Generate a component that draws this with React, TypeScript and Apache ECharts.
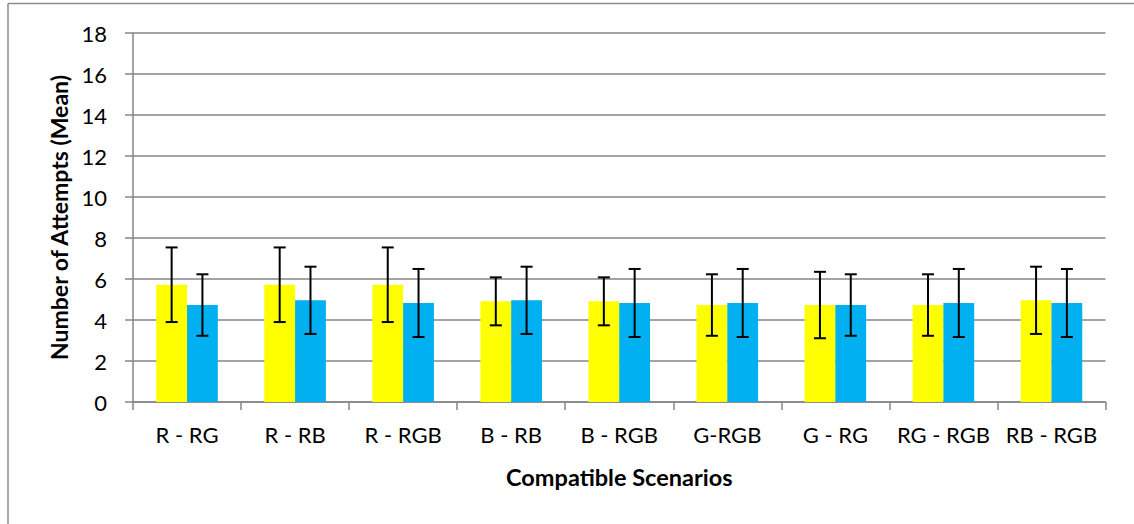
import React, { useEffect, useRef } from "react";
import * as echarts from "echarts";

// Compatible scenarios on the x axis
const categories = [
  "R - RG",
  "R - RB",
  "R - RGB",
  "B - RB",
  "B - RGB",
  "G-RGB",
  "G - RG",
  "RG - RGB",
  "RB - RGB",
];

// Mean number of attempts and the error (± half-range) for each pair
const firstMeans = [5.72, 5.72, 5.72, 4.91, 4.91, 4.73, 4.73, 4.73, 4.96];
const firstErrors = [1.82, 1.82, 1.82, 1.17, 1.17, 1.5, 1.62, 1.5, 1.64];
const secondMeans = [4.73, 4.96, 4.83, 4.96, 4.83, 4.83, 4.73, 4.83, 4.83];
const secondErrors = [1.5, 1.64, 1.66, 1.64, 1.66, 1.66, 1.5, 1.66, 1.66];

const yTicks = { min: 0, max: 18, interval: 2 };

const FONT = "Lato, 'Open Sans', sans-serif";
const GRID_COLOR = "#868686";
const CATEGORY_GAP = 0.43;

function errorSeries(means: number[], errors: number[], side: number) {
  return {
    type: "custom",
    silent: true,
    z: 10,
    data: means.map((m, i) => [i, m - errors[i], m + errors[i]]),
    renderItem: (params: any, api: any) => {
      const idx = api.value(0);
      const lo = api.coord([idx, api.value(1)]);
      const hi = api.coord([idx, api.value(2)]);
      const band = api.size([1, 0])[0];
      const barW = (band * (1 - CATEGORY_GAP)) / 2;
      const x = lo[0] + side * (barW / 2);
      const cap = 6;
      const style = { stroke: "#000", lineWidth: 2 };
      return {
        type: "group",
        children: [
          { type: "line", shape: { x1: x, y1: lo[1], x2: x, y2: hi[1] }, style },
          { type: "line", shape: { x1: x - cap, y1: hi[1], x2: x + cap, y2: hi[1] }, style },
          { type: "line", shape: { x1: x - cap, y1: lo[1], x2: x + cap, y2: lo[1] }, style },
        ],
      };
    },
  };
}

export default function App() {
  const ref = useRef<HTMLDivElement>(null);

  useEffect(() => {
    if (!ref.current) return;
    const chart = echarts.init(ref.current, null, { renderer: "svg" });
    chart.setOption({
      animation: false,
      backgroundColor: "#ffffff",
      grid: { left: 133, right: 28.5, top: 33, bottom: 122, containLabel: false },
      graphic: [
        {
          type: "line",
          shape: { x1: 8, y1: 3.5, x2: 1134, y2: 3.5 },
          style: { stroke: "#8c8c8c", lineWidth: 1.5 },
        },
        {
          type: "line",
          shape: { x1: 8, y1: 3.5, x2: 8, y2: 524 },
          style: { stroke: "#8c8c8c", lineWidth: 1.5 },
        },
      ],
      xAxis: {
        type: "category",
        data: categories,
        name: "Compatible Scenarios",
        nameLocation: "middle",
        nameGap: 63,
        nameTextStyle: { fontFamily: FONT, fontSize: 23.5, fontWeight: "bold", color: "#000" },
        axisLine: { lineStyle: { color: GRID_COLOR, width: 1.5 } },
        axisTick: { show: true, length: 8, lineStyle: { color: GRID_COLOR, width: 1.5 } },
        axisLabel: { fontFamily: FONT, fontSize: 22, color: "#000", margin: 21, interval: 0 },
      },
      yAxis: {
        type: "value",
        min: yTicks.min,
        max: yTicks.max,
        interval: yTicks.interval,
        name: "Number of Attempts (Mean)",
        nameLocation: "middle",
        nameGap: 61,
        nameTextStyle: { fontFamily: FONT, fontSize: 23, fontWeight: "bold", color: "#000" },
        axisLine: { show: true, lineStyle: { color: GRID_COLOR, width: 1.5 } },
        axisTick: { show: true, length: 8, lineStyle: { color: GRID_COLOR, width: 1.5 } },
        axisLabel: { fontFamily: FONT, fontSize: 22, color: "#000", margin: 26 },
        splitLine: { show: true, lineStyle: { color: GRID_COLOR, width: 1.5 } },
      },
      series: [
        {
          type: "bar",
          data: firstMeans,
          barGap: "0%",
          barCategoryGap: CATEGORY_GAP * 100 + "%",
          itemStyle: { color: "#ffff00" },
        },
        {
          type: "bar",
          data: secondMeans,
          barGap: "0%",
          barCategoryGap: CATEGORY_GAP * 100 + "%",
          itemStyle: { color: "#00b0f0" },
        },
        errorSeries(firstMeans, firstErrors, -1),
        errorSeries(secondMeans, secondErrors, 1),
      ],
    });
    return () => chart.dispose();
  }, []);

  return (
    <div
      ref={ref}
      style={{ position: "fixed", left: 0, top: 0, width: 1134, height: 524 }}
    />
  );
}
